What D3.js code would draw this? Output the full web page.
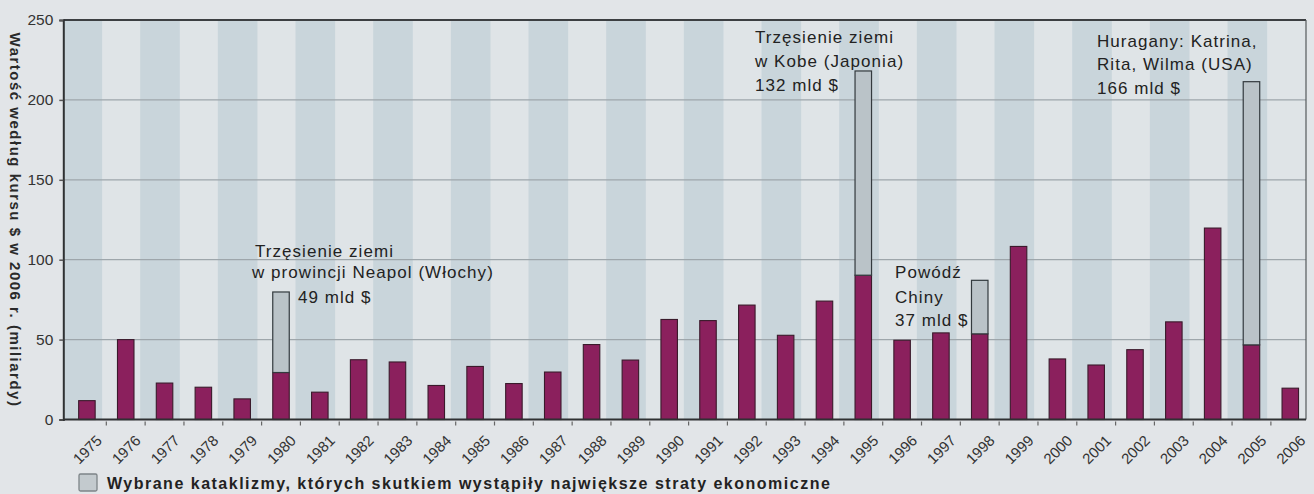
<!DOCTYPE html>
<html>
<head>
<meta charset="utf-8">
<script src="https://cdn.jsdelivr.net/npm/d3@7"></script>
<style>
  html, body { margin: 0; padding: 0; background: #e2e5e8; }
  svg { display: block; }
</style>
</head>
<body>
<svg id="chart" width="1314" height="494"></svg>
<script>
// ---- data ----
const years = ["1975","1976","1977","1978","1979","1980","1981","1982","1983","1984","1985",
  "1986","1987","1988","1989","1990","1991","1992","1993","1994","1995",
  "1996","1997","1998","1999","2000","2001","2002","2003","2004","2005","2006"];
const losses = [11.8, 50, 22.8, 20.2, 12.9, 29.4, 17.1, 37.4, 36, 21.3, 33.2,
  22.5, 29.7, 46.9, 37.2, 62.6, 61.9, 71.6, 52.7, 74.1, 90.3,
  49.6, 54.2, 53.6, 108.3, 37.9, 34.1, 43.7, 61.1, 119.8, 46.7, 19.6];
const disasters = [0, 0, 0, 0, 0, 50.4, 0, 0, 0, 0, 0,
  0, 0, 0, 0, 0, 0, 0, 0, 0, 127.8,
  0, 0, 33.5, 0, 0, 0, 0, 0, 0, 164.7, 0];
const yTicks = [0, 50, 100, 150, 200, 250];
const yTitle = "Wartość według kursu $ w 2006 r. (miliardy)";
const legendText = "Wybrane kataklizmy, których skutkiem wystąpiły największe straty ekonomiczne";
const notes = [
  ["Trzęsienie ziemi", "w prowincji Neapol (Włochy)", "49 mld $"],
  ["Trzęsienie ziemi", "w Kobe (Japonia)", "132 mld $"],
  ["Powódź", "Chiny", "37 mld $"],
  ["Huragany: Katrina,", "Rita, Wilma (USA)", "166 mld $"]
];

// ---- layout ----
const frame = {left: 63.3, right: 1306, top: 20, bottom: 419.5};
const noteLayout = [
  {lines: [[255, 256.7], [252, 278.3], [298, 303.3]]},
  {lines: [[755, 42.7], [755, 66.7], [755, 90.7]]},
  {lines: [[895, 278.3], [895, 303.3], [895, 325.5]]},
  {lines: [[1097, 46.7], [1097, 69.5], [1097, 94]]}
];

const svg = d3.select("#chart");
const rows = years.map((y, i) => ({year: y, base: losses[i], extra: disasters[i]}));

const xStripe = d3.scaleBand().domain(years).range([frame.left, frame.right]).padding(0);
const x = d3.scaleBand().domain(years).range([67.5, 1309.7]).padding(0);
const y = d3.scaleLinear().domain([0, 250]).range([frame.bottom, frame.top]);

svg.append("defs").append("clipPath").attr("id", "plotclip")
  .append("rect").attr("x", frame.left).attr("y", frame.top)
  .attr("width", frame.right - frame.left).attr("height", frame.bottom - frame.top);

const plot = svg.append("g").attr("clip-path", "url(#plotclip)");

// stripes
plot.selectAll("rect.stripe").data(years).join("rect")
  .attr("class", "stripe")
  .attr("x", (d, i) => xStripe(d) - (i % 2 === 0 ? 0.8 : 0))
  .attr("y", frame.top)
  .attr("width", (d, i) => xStripe.bandwidth() + (i % 2 === 0 ? 1.6 : 0.4))
  .attr("height", frame.bottom - frame.top)
  .attr("fill", (d, i) => i % 2 === 0 ? "#c9d5db" : "#dfe4e7");

// grid
plot.selectAll("line.grid").data(yTicks.filter(t => t > 0 && t < 250)).join("line")
  .attr("x1", frame.left).attr("x2", frame.right)
  .attr("y1", d => y(d)).attr("y2", d => y(d))
  .attr("stroke", "#9ea6ab").attr("stroke-width", 1.3);

// bars
const barW = 16.5;
const bars = svg.append("g");
bars.selectAll("rect.base").data(rows).join("rect")
  .attr("x", d => x(d.year) + x.bandwidth() / 2 - barW / 2)
  .attr("y", d => y(d.base))
  .attr("width", barW)
  .attr("height", d => y(0) - y(d.base))
  .attr("fill", "#8b205d")
  .attr("stroke", "#3a1a2b").attr("stroke-width", 1.1);
bars.selectAll("rect.extra").data(rows.filter(d => d.extra > 0)).join("rect")
  .attr("x", d => x(d.year) + x.bandwidth() / 2 - barW / 2)
  .attr("y", d => y(d.base + d.extra))
  .attr("width", barW)
  .attr("height", d => y(d.base) - y(d.base + d.extra))
  .attr("fill", "#bac3c8")
  .attr("stroke", "#333a3e").attr("stroke-width", 1.2);

// frame lines
svg.append("line").attr("x1", frame.left).attr("x2", frame.right)
  .attr("y1", frame.top).attr("y2", frame.top).attr("stroke", "#3c3f42").attr("stroke-width", 2);
svg.append("line").attr("x1", frame.right).attr("x2", frame.right)
  .attr("y1", frame.top).attr("y2", frame.bottom).attr("stroke", "#55595c").attr("stroke-width", 1.2);

// y axis
const yAxis = d3.axisLeft(y).tickValues(yTicks).tickSize(4).tickPadding(7);
const gy = svg.append("g").attr("transform", `translate(${frame.left},0)`).call(yAxis);
gy.select(".domain").attr("stroke", "#2f3133").attr("stroke-width", 2);
gy.selectAll(".tick line").attr("stroke", "#555").attr("stroke-width", 1.5);
gy.selectAll(".tick text")
  .attr("font-family", "'Liberation Sans', Arial, sans-serif")
  .attr("font-size", 15.5).attr("fill", "#333").attr("x", -10);

// x axis
const xAxis = d3.axisBottom(x).tickSize(0).tickFormat(d => d);
const gx = svg.append("g").attr("transform", `translate(0,${frame.bottom})`).call(xAxis);
gx.select(".domain").attr("d", `M${frame.left},0H${frame.right}`)
  .attr("stroke", "#2f3133").attr("stroke-width", 2);
gx.selectAll(".tick text")
  .attr("font-family", "'Liberation Sans', Arial, sans-serif")
  .attr("font-size", 15).attr("fill", "#333")
  .attr("text-anchor", "end")
  .attr("dy", 0).attr("y", 0)
  .attr("transform", "translate(16,22) rotate(-45)");
// small boundary tick marks
gx.selectAll("line.btick").data(years.slice(1)).join("line")
  .attr("class", "btick")
  .attr("x1", d => x(d)).attr("x2", d => x(d))
  .attr("y1", 2).attr("y2", 6)
  .attr("stroke", "#666").attr("stroke-width", 1.2);

// y title
svg.append("text")
  .attr("transform", "translate(10,220) rotate(90)")
  .attr("text-anchor", "middle")
  .attr("font-family", "'Liberation Sans', Arial, sans-serif")
  .attr("font-weight", "bold").attr("font-size", 15)
  .attr("letter-spacing", 1.5)
  .attr("fill", "#2a2a2a")
  .text(yTitle);

// annotations
notes.forEach((lines, k) => {
  lines.forEach((t, j) => {
    const p = noteLayout[k].lines[j];
    svg.append("text")
      .attr("x", p[0]).attr("y", p[1])
      .attr("font-family", "'Liberation Sans', Arial, sans-serif")
      .attr("font-size", 17).attr("letter-spacing", 1.05)
      .attr("fill", "#222")
      .text(t);
  });
});

// legend
svg.append("rect").attr("x", 79).attr("y", 474).attr("width", 18).attr("height", 17)
  .attr("fill", "#c3cace").attr("stroke", "#7d8488").attr("stroke-width", 1.3).attr("rx", 1.5);
svg.append("text").attr("x", 107).attr("y", 489)
  .attr("font-family", "'Liberation Sans', Arial, sans-serif")
  .attr("font-weight", "bold").attr("font-size", 16).attr("letter-spacing", 1.5)
  .attr("fill", "#222")
  .text(legendText);
</script>
</body>
</html>
